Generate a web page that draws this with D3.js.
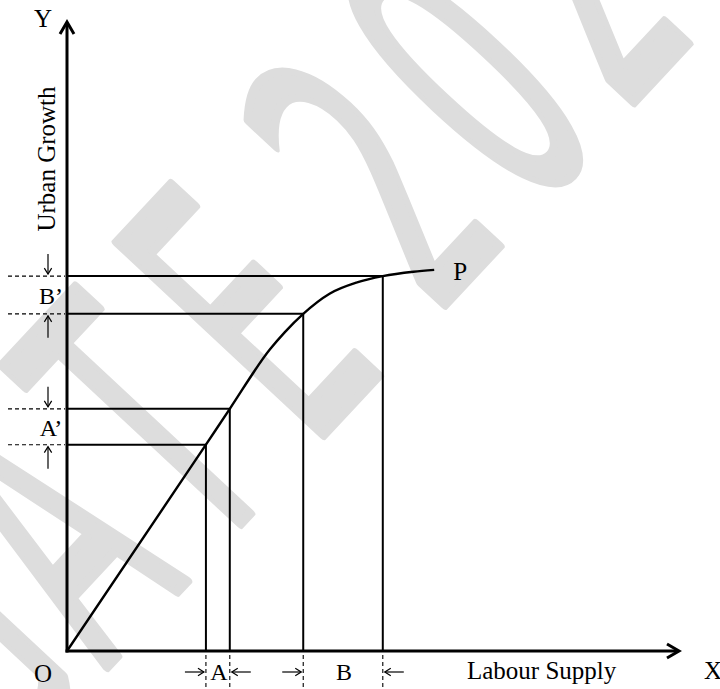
<!DOCTYPE html>
<html>
<head>
<meta charset="utf-8">
<script src="https://cdn.jsdelivr.net/npm/d3@7"></script>
<style>
  html, body { margin: 0; padding: 0; background: #fff; }
  svg { display: block; }
  text { font-family: "Liberation Serif", "Times New Roman", serif; fill: #000; }
</style>
</head>
<body>
<svg id="chart" width="720" height="689"></svg>
<script>
// ---- data (chart units: 0..100 on both axes) ----
const curveX = [0, 22.7, 26.6, 33.2, 35.6, 38.6, 42.9, 47.4, 51.6, 56.6, 60.0];
const curveY = [0, 32.8, 38.5, 48.0, 50.7, 53.6, 56.8, 58.6, 59.6, 60.3, 60.6];
const markX = [22.7, 26.6, 38.6, 51.6];
const markY = [32.8, 38.5, 53.6, 59.6];
const xIntervals = [{ label: "A", from: 22.7, to: 26.6 }, { label: "B", from: 38.6, to: 51.6 }];
const yIntervals = [{ label: "A’", from: 32.8, to: 38.5 }, { label: "B’", from: 53.6, to: 59.6 }];
const axisLabels = { x: "Labour Supply", y: "Urban Growth", xEnd: "X", yEnd: "Y", origin: "O", curve: "P" };
const watermarkChars = ["G", "A", "T", "E", "2", "0", "2", "0"];
const watermarkPos = [-505, -356, -212, -60, 123, 262, 400, 540];

// ---- scales ----
const x = d3.scaleLinear().domain([0, 100]).range([67, 679]);
const y = d3.scaleLinear().domain([0, 100]).range([651, 22]);

const svg = d3.select("#chart");

// ---- watermark ----
const wm = svg.append("g").attr("transform", "rotate(-47)");
watermarkChars.forEach((c, i) => {
  wm.append("text")
    .attr("transform", `translate(${watermarkPos[i]},533) scale(0.47,1)`)
    .attr("text-anchor", "middle")
    .style("font-family", "'DejaVu Sans', sans-serif")
    .style("font-size", "387px")
    .style("fill", "#dddddd")
    .style("stroke", "#dddddd")
    .style("stroke-width", "10px")
    .style("stroke-linejoin", "round")
    .text(c);
});

// ---- reference lines to curve points ----
const ref = svg.append("g").attr("stroke", "#000").attr("stroke-width", 2).attr("fill", "none");
markX.forEach((mx, i) => {
  const my = markY[i];
  ref.append("line").attr("x1", x(mx)).attr("x2", x(mx)).attr("y1", y(0)).attr("y2", y(my));
  ref.append("line").attr("x1", x(0)).attr("x2", x(mx)).attr("y1", y(my)).attr("y2", y(my));
});

// dashed extensions
const dash = svg.append("g").attr("stroke", "#000").attr("stroke-width", 1.1).attr("stroke-dasharray", "4,3");
markX.forEach(mx => {
  dash.append("line").attr("x1", x(mx)).attr("x2", x(mx)).attr("y1", y(0) + 4).attr("y2", 689);
});
markY.forEach(my => {
  dash.append("line").attr("x1", 8).attr("x2", x(0) - 2).attr("y1", y(my)).attr("y2", y(my));
});

// ---- curve ----
const pts = curveX.map((d, i) => [d, curveY[i]]);
svg.append("path")
  .datum(pts)
  .attr("fill", "none")
  .attr("stroke", "#000")
  .attr("stroke-width", 2.4)
  .attr("d", d3.line().x(d => x(d[0])).y(d => y(d[1])).curve(d3.curveMonotoneX));

// ---- axes ----
const ax = svg.append("g").attr("stroke", "#000").attr("stroke-width", 3).attr("fill", "none")
  .attr("stroke-linecap", "butt");
ax.append("line").attr("x1", x(0)).attr("x2", x(0)).attr("y1", y(0) + 1.5).attr("y2", y(100) + 1);
ax.append("line").attr("x1", x(0) - 1.5).attr("x2", x(100) - 1).attr("y1", y(0)).attr("y2", y(0));
ax.append("path").attr("stroke-linejoin", "miter")
  .attr("d", `M${x(0) - 7},${y(100) + 12}L${x(0)},${y(100)}L${x(0) + 7},${y(100) + 12}`);
ax.append("path").attr("stroke-linejoin", "miter")
  .attr("d", `M${x(100) - 12},${y(0) - 7}L${x(100)},${y(0)}L${x(100) - 12},${y(0) + 7}`);

// ---- small arrows ----
const sa = svg.append("g").attr("stroke", "#000").attr("stroke-width", 1.2).attr("fill", "none");
function arrow(x1, y1, x2, y2) {
  const a = Math.atan2(y2 - y1, x2 - x1), h = 7, w = 0.55;
  sa.append("line").attr("x1", x1).attr("y1", y1).attr("x2", x2).attr("y2", y2);
  sa.append("path").attr("d",
    `M${x2 - h * Math.cos(a - w)},${y2 - h * Math.sin(a - w)}L${x2},${y2}L${x2 - h * Math.cos(a + w)},${y2 - h * Math.sin(a + w)}`);
}
const ay = 48;
yIntervals.forEach(iv => {
  const yt = y(iv.to), yb = y(iv.from);
  arrow(ay, yt - 22, ay, yt - 2);
  arrow(ay, yb + 24, ay, yb + 2);
  svg.append("text").attr("x", 51).attr("y", (yt + yb) / 2 + 9)
    .attr("text-anchor", "middle").style("font-size", "24px").text(iv.label);
});
const axy = 672;
xIntervals.forEach(iv => {
  const xl = x(iv.from), xr = x(iv.to);
  arrow(xl - 21, axy, xl - 2, axy);
  arrow(xr + 21, axy, xr + 2, axy);
  svg.append("text").attr("x", (xl + xr) / 2 + 1).attr("y", 680)
    .attr("text-anchor", "middle").style("font-size", "24px").text(iv.label);
});

// ---- text labels ----
svg.append("text").attr("x", 43).attr("y", 682).attr("text-anchor", "middle").style("font-size", "25px").text(axisLabels.origin);
svg.append("text").attr("x", 467).attr("y", 679).style("font-size", "25px").text(axisLabels.x);
svg.append("text").attr("x", 704).attr("y", 679).style("font-size", "25px").text(axisLabels.xEnd);
svg.append("text").attr("x", 43).attr("y", 27).attr("text-anchor", "middle").style("font-size", "25px").text(axisLabels.yEnd);
svg.append("text").attr("transform", "translate(55,159) rotate(-90)").attr("text-anchor", "middle")
  .style("font-size", "25px").text(axisLabels.y);
svg.append("text").attr("x", x(curveX[curveX.length - 1]) + 19).attr("y", 280).style("font-size", "25px").text(axisLabels.curve);
</script>
</body>
</html>
